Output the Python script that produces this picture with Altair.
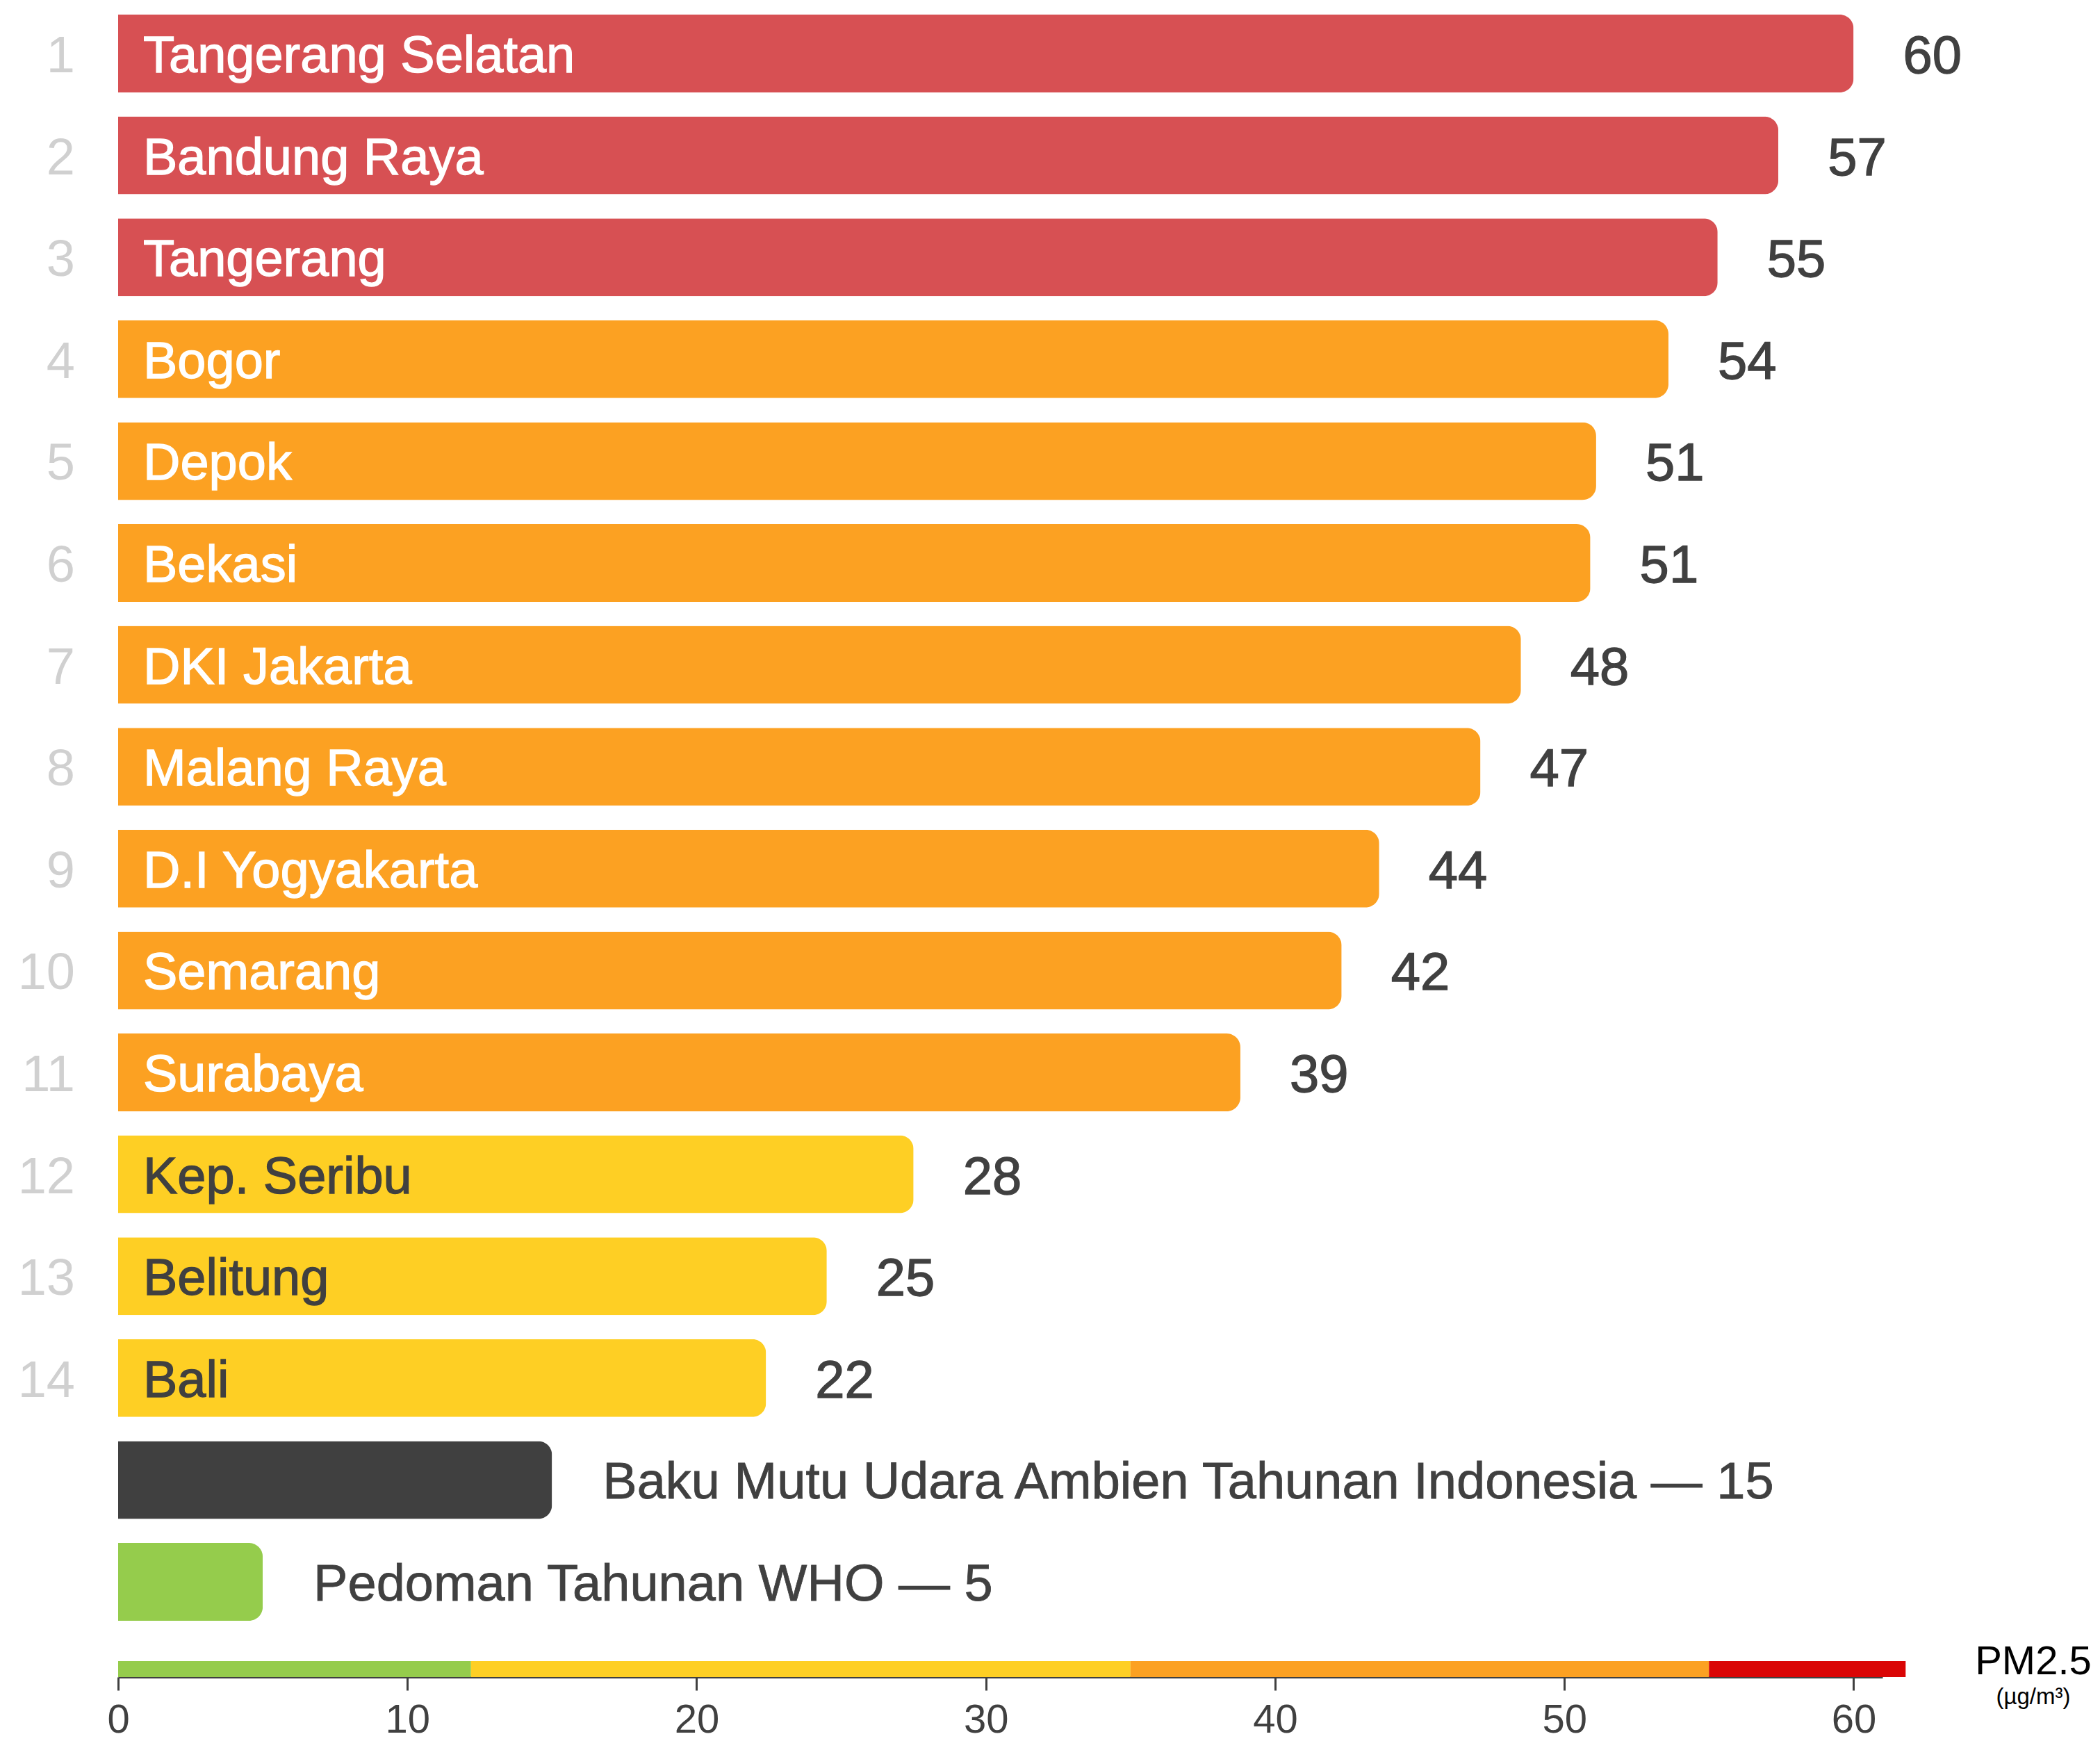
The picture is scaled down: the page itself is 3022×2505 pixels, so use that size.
import altair as alt
import pandas as pd

# ---- data ----
cities = ["Tangerang Selatan", "Bandung Raya", "Tangerang", "Bogor", "Depok", "Bekasi",
          "DKI Jakarta", "Malang Raya", "D.I Yogyakarta", "Semarang", "Surabaya",
          "Kep. Seribu", "Belitung", "Bali"]
values = [60.0, 57.4, 55.3, 53.6, 51.1, 50.9, 48.5, 47.1, 43.6, 42.3, 38.8, 27.5, 24.5, 22.4]
value_labels = ["60", "57", "55", "54", "51", "51", "48", "47", "44", "42", "39", "28", "25", "22"]
levels = ["red"] * 3 + ["orange"] * 8 + ["yellow"] * 3
ranks = [str(i) for i in range(1, 15)]

ref_names = ["Baku Mutu Udara Ambien Tahunan Indonesia — 15", "Pedoman Tahunan WHO — 5"]
ref_values = [15, 5]
ref_colors = ["#404040", "#95cc4c"]

band_starts = [0, 12.2, 35, 55]
band_ends = [12.2, 35, 55, 61.8]
band_colors = ["#95cc4c", "#fecf24", "#fca122", "#da0505"]

x_ticks = [0, 10, 20, 30, 40, 50, 60]

level_fill = {"red": "#d75053", "orange": "#fca122", "yellow": "#fecf24"}
level_text = {"red": "#ffffff", "orange": "#ffffff", "yellow": "#404040"}

# ---- tables ----
rows = pd.DataFrame({
    "key": cities + ref_names,
    "value": values + ref_values,
    "fill": [level_fill[l] for l in levels] + ref_colors,
})
city_df = pd.DataFrame({
    "key": cities,
    "value": values,
    "vlabel": value_labels,
    "rank": ranks,
    "tcolor": [level_text[l] for l in levels],
})
ref_df = pd.DataFrame({"key": ref_names, "value": ref_values})
band_df = pd.DataFrame({"start": band_starts, "end": band_ends, "color": band_colors})
unit_df = pd.DataFrame({"t": ["PM2.5"]})
unit2_df = pd.DataFrame({"t": ["(µg/m³)"]})

order = cities + ref_names
FONT = "Liberation Sans"

xscale = alt.Scale(domain=[0, 61], nice=False, zero=True)
xaxis = alt.Axis(values=x_ticks, title=None, grid=False, domainColor="#404040", domainWidth=3,
                 tickColor="#404040", tickWidth=3, tickSize=19, labelFontSize=58,
                 labelColor="#404040", labelFont=FONT, labelPadding=14, labelFlush=False)
yscale = alt.Scale(domain=order, paddingInner=0.236, paddingOuter=0.348, align=0.206, round=False)


def X(field):
    return alt.X(field, type="quantitative", scale=xscale, axis=xaxis)


def Y():
    return alt.Y("key:N", sort=order, scale=yscale, axis=None)


bars = alt.Chart(rows).mark_bar(cornerRadiusEnd=20).encode(
    x=X("value"), y=Y(), color=alt.Color("fill:N", scale=None)
)

inner = alt.Chart(city_df).mark_text(align="left", baseline="middle", fontSize=74, font=FONT, dy=5,
                                     strokeWidth=1.3).encode(
    x=alt.value(36), y=Y(), text="key:N",
    color=alt.Color("tcolor:N", scale=None), stroke=alt.Stroke("tcolor:N", scale=None)
)

vals = alt.Chart(city_df).mark_text(align="left", baseline="middle", fontSize=76, font=FONT, dx=71, dy=5,
                                    color="#404040", stroke="#404040", strokeWidth=1.3).encode(
    x=X("value"), y=Y(), text="vlabel:N"
)

refs = alt.Chart(ref_df).mark_text(align="left", baseline="middle", fontSize=74, font=FONT, dx=73, dy=5,
                                   color="#404040", stroke="#404040", strokeWidth=0.8).encode(
    x=X("value"), y=Y(), text="key:N"
)

rank_t = alt.Chart(city_df).mark_text(align="right", baseline="middle", fontSize=74, font=FONT, dy=5,
                                      color="#d0d0d0").encode(
    x=alt.value(-62), y=Y(), text="rank:N"
)

band = alt.Chart(band_df).mark_rect().encode(
    x=X("start"), x2="end", y=alt.value(2390), y2=alt.value(2413),
    color=alt.Color("color:N", scale=None)
)

unit1 = alt.Chart(unit_df).mark_text(align="center", baseline="alphabetic", fontSize=58, font=FONT,
                                     color="#000000").encode(
    x=alt.value(2756), y=alt.value(2409), text="t:N"
)
unit2 = alt.Chart(unit2_df).mark_text(align="center", baseline="alphabetic", fontSize=33, font=FONT,
                                      color="#000000").encode(
    x=alt.value(2756), y=alt.value(2452), text="t:N"
)

chart = alt.layer(bars, inner, vals, refs, rank_t, band, unit1, unit2).properties(
    width=2539, height=2413,
    autosize=alt.AutoSizeParams(type="none"),
    padding={"left": 170, "top": 0, "right": 313, "bottom": 92},
    background="#ffffff",
).configure_view(stroke=None)

chart.save("out.html", embed_options={"renderer": "svg", "actions": False})
